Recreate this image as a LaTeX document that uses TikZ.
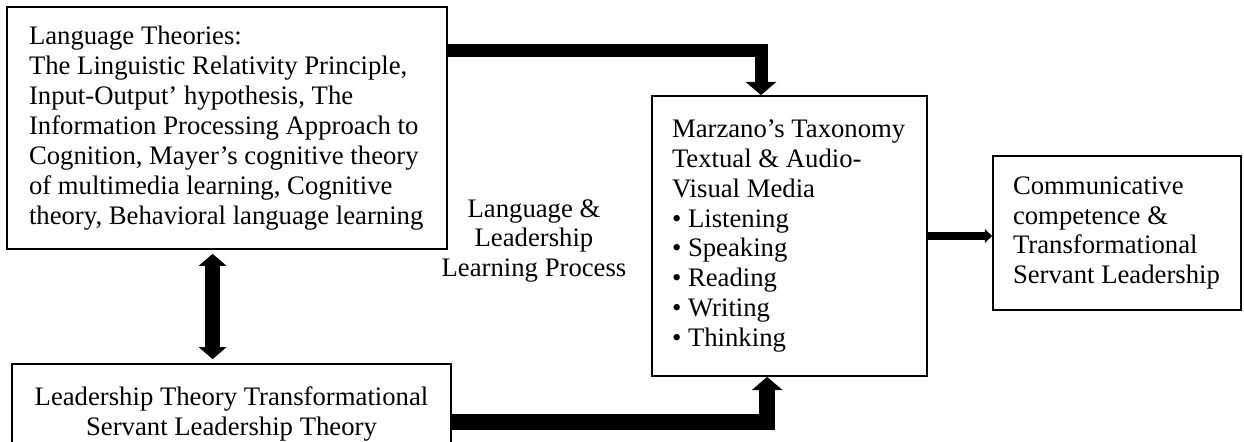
\documentclass[tikz,border=0pt]{standalone}
\usepackage{fontspec}
\setmainfont{Liberation Serif}
\usetikzlibrary{arrows.meta}

\begin{document}
\begin{tikzpicture}[
    font=\fontsize{19}{21.3}\selectfont,
    box/.style={draw, line width=1.2pt, inner ysep=0pt},
    bigarrow/.style={line width=#1, -{Triangle[width=0.75cm, length=0.33cm]}},
  ]
  \useasboundingbox (0, 0) rectangle (31.1, 11.025);
  \clip (0, 0) rectangle (31.1, 11.025);

  \node[box, text width=9.9cm, inner xsep=0.55cm, minimum height=6.05cm, align=flush left] (lang) at (5.675, 7.825)
    {Language Theories:\\
     The Linguistic Relativity Principle,\\
     Input-Output’ hypothesis, The\\
     Information Processing Approach to\\
     Cognition, Mayer’s cognitive theory\\
     of multimedia learning, Cognitive\\
     theory, Behavioral language learning};
  \node[box, text width=10.375cm, inner xsep=0.3cm, minimum height=2.5cm, align=flush center] (lead) at (5.7875, 0.675)
    {Leadership Theory Transformational\\
     Servant Leadership Theory};
  \node[box, text width=5.875cm, inner xsep=0.5cm, minimum height=7cm, align=flush left] (marz) at (19.7375, 5.125)
    {Marzano’s Taxonomy\\
     Textual \& Audio-\\
     Visual Media\\
     \textbullet\ Listening\\
     \textbullet\ Speaking\\
     \textbullet\ Reading\\
     \textbullet\ Writing\\
     \textbullet\ Thinking};
  \node[box, text width=5.2cm, inner xsep=0.5cm, minimum height=3.85cm, align=flush left] (comm) at (27.925, 5.2)
    {Communicative\\
     competence \&\\
     Transformational\\
     Servant Leadership};
  \node[align=center] (proc) at (13.35, 5.0) {Language \&\\ Leadership\\ Learning Process};

  \draw[bigarrow=0.325cm] ([yshift=1.925cm]lang.east) -| ([xshift=-0.7125cm]marz.north);
  \draw[bigarrow=0.4cm] ([yshift=-0.2cm]lead.east) -| ([xshift=-0.56cm]marz.south);
  \coordinate (mid) at ([xshift=-0.36cm]lang.south);
  \draw[line width=0.375cm, {Triangle[width=0.68cm, length=0.3cm]}-{Triangle[width=0.68cm, length=0.3cm]},
    shorten <=0.1cm, shorten >=0.1cm] (mid) -- (mid |- lead.north);
  \draw[line width=0.2cm, -{Triangle[width=0.33cm, length=0.18cm]}] (marz.east) -- (marz.east -| comm.west);
\end{tikzpicture}
\end{document}
